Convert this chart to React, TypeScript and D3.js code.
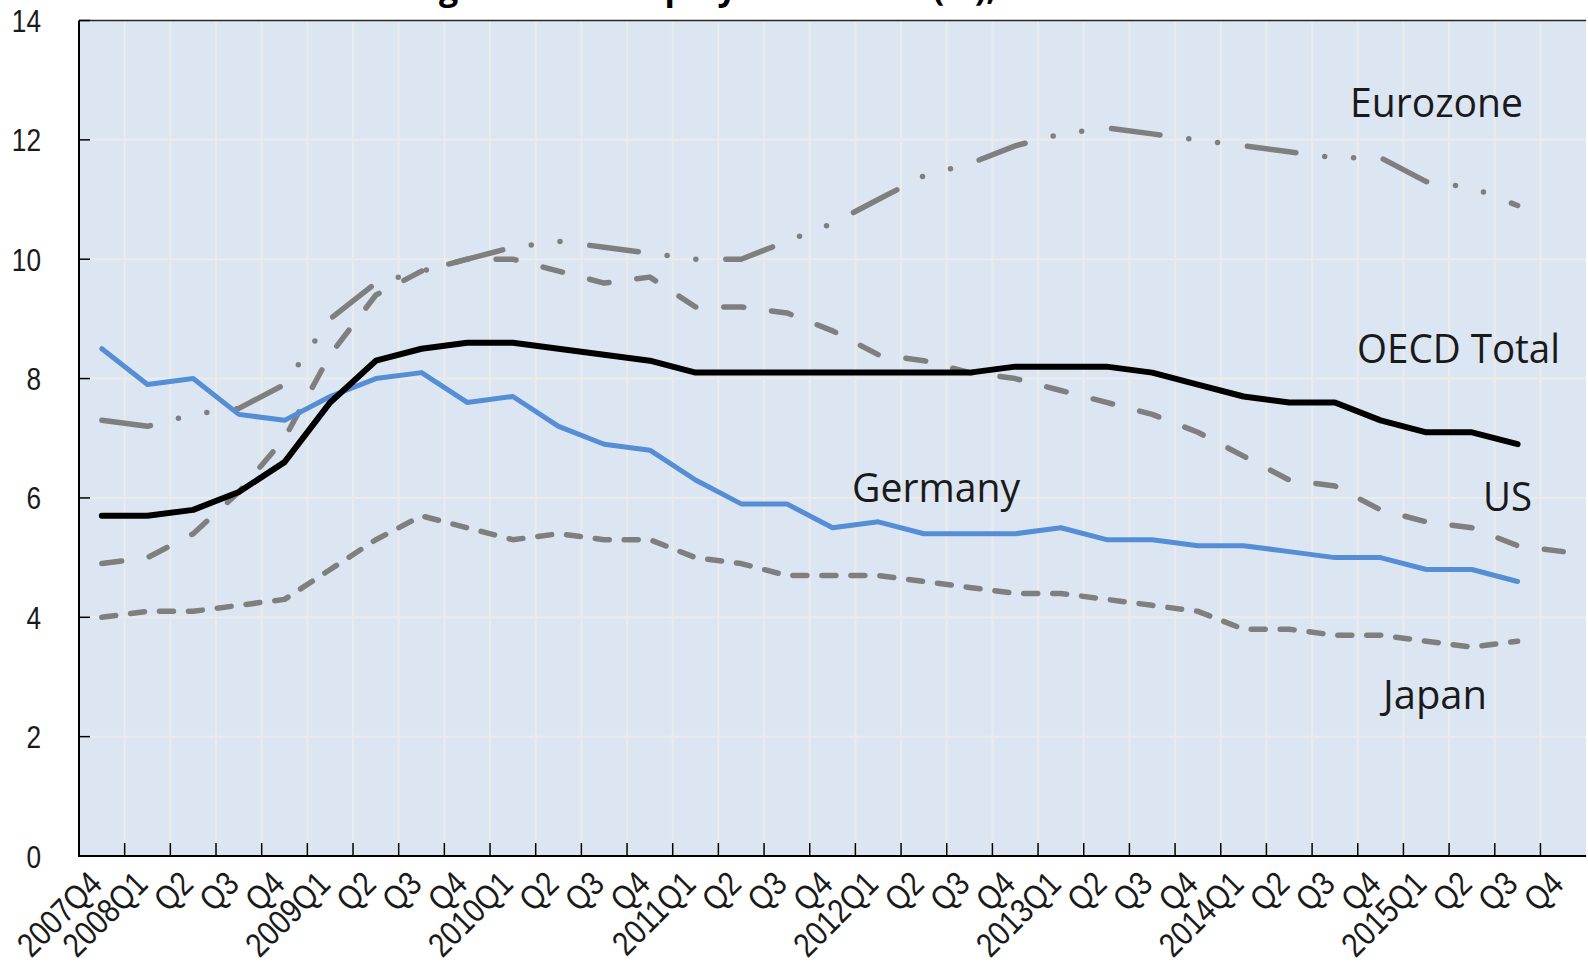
import React from "react";
import * as d3 from "d3";

const quarterLabels = [
  "2007Q4", "2008Q1", "Q2", "Q3", "Q4", "2009Q1", "Q2", "Q3", "Q4",
  "2010Q1", "Q2", "Q3", "Q4", "2011Q1", "Q2", "Q3", "Q4",
  "2012Q1", "Q2", "Q3", "Q4", "2013Q1", "Q2", "Q3", "Q4",
  "2014Q1", "Q2", "Q3", "Q4", "2015Q1", "Q2", "Q3", "Q4",
];

const oecdTotal = [5.7, 5.7, 5.8, 6.1, 6.6, 7.6, 8.3, 8.5, 8.6, 8.6, 8.5, 8.4, 8.3, 8.1, 8.1, 8.1, 8.1, 8.1, 8.1, 8.1, 8.2, 8.2, 8.2, 8.1, 7.9, 7.7, 7.6, 7.6, 7.3, 7.1, 7.1, 6.9];
const germany = [8.5, 7.9, 8.0, 7.4, 7.3, 7.7, 8.0, 8.1, 7.6, 7.7, 7.2, 6.9, 6.8, 6.3, 5.9, 5.9, 5.5, 5.6, 5.4, 5.4, 5.4, 5.5, 5.3, 5.3, 5.2, 5.2, 5.1, 5.0, 5.0, 4.8, 4.8, 4.6];
const japan = [4.0, 4.1, 4.1, 4.2, 4.3, 4.8, 5.3, 5.7, 5.5, 5.3, 5.4, 5.3, 5.3, 5.0, 4.9, 4.7, 4.7, 4.7, 4.6, 4.5, 4.4, 4.4, 4.3, 4.2, 4.1, 3.8, 3.8, 3.7, 3.7, 3.6, 3.5, 3.6];
const us = [4.9, 5.0, 5.4, 6.1, 7.0, 8.4, 9.4, 9.8, 10.0, 10.0, 9.8, 9.6, 9.7, 9.2, 9.2, 9.1, 8.8, 8.4, 8.3, 8.1, 8.0, 7.8, 7.6, 7.4, 7.1, 6.7, 6.3, 6.2, 5.8, 5.6, 5.5, 5.2, 5.1];
const eurozone = [7.3, 7.2, 7.4, 7.5, 7.9, 9.0, 9.6, 9.8, 10.0, 10.2, 10.3, 10.2, 10.1, 10.0, 10.0, 10.3, 10.6, 11.0, 11.4, 11.6, 11.9, 12.1, 12.2, 12.1, 12.0, 11.9, 11.8, 11.7, 11.7, 11.3, 11.2, 10.9];

const yTicks = [0, 2, 4, 6, 8, 10, 12, 14];

const W = 1588;
const H = 968;
const left = 79;
const bandW = 45.67;
const right = left + bandW * quarterLabels.length;
const top = 20.5;
const bottom = 856;

const seriesDefs = [
  { name: "Japan", values: japan, color: "#7f7f7f", width: 5.5, dash: "14 15" },
  { name: "US", values: us, color: "#7f7f7f", width: 5.5, dash: "20 28" },
  { name: "Eurozone", values: eurozone, color: "#7f7f7f", width: 5.5, dash: "49 29 0 29 0 30" },
  { name: "Germany", values: germany, color: "#558ed5", width: 5, dash: null },
  { name: "OECD Total", values: oecdTotal, color: "#000000", width: 6, dash: null },
];

const seriesLabels = [
  { text: "Eurozone", x: 1350, y: 117, len: 173 },
  { text: "OECD Total", x: 1357, y: 363, len: 203 },
  { text: "US", x: 1483, y: 511, len: 49 },
  { text: "Germany", x: 852, y: 502, len: 168 },
  { text: "Japan", x: 1383, y: 709, len: 104 },
];

export default function App() {
  const x = d3
    .scaleBand<number>()
    .domain(quarterLabels.map((_, i) => i))
    .range([left, right])
    .paddingInner(0)
    .paddingOuter(0);
  const y = d3.scaleLinear().domain([0, 14]).range([bottom, top]);
  const cx = (i: number) => (x(i) as number) + x.bandwidth() / 2;

  const line = d3
    .line<number>()
    .x((_, i) => cx(i))
    .y((d) => y(d));

  const narrow = "'Liberation Sans', Arial, sans-serif";

  return (
    <svg
      width={W}
      height={H}
      style={{ position: "absolute", left: 0, top: 0, background: "#ffffff" }}
    >
      <text
        x={410}
        y={0}
        fontFamily="'Open Sans', sans-serif"
        fontWeight={700}
        fontSize={34}
        fill="#000"
      >
        Figure 1. Unemployment rates (%), 2007-2015
      </text>
      <rect x={left} y={top} width={right - left} height={bottom - top} fill="#dce6f2" />
      {quarterLabels.map((_, i) =>
        i === 0 ? null : (
          <line
            key={"vg" + i}
            x1={x(i) as number}
            x2={x(i) as number}
            y1={top}
            y2={bottom}
            stroke="#ebebeb"
            strokeWidth={2}
          />
        )
      )}
      {yTicks
        .filter((t) => t !== 0 && t !== 14)
        .map((t) => (
          <line key={"hg" + t} x1={left} x2={right} y1={y(t)} y2={y(t)} stroke="#ebebeb" strokeWidth={2} />
        ))}
      {seriesDefs.map((s) => (
        <path
          key={s.name}
          d={line(s.values) || ""}
          fill="none"
          stroke={s.color}
          strokeWidth={s.width}
          strokeDasharray={s.dash || undefined}
          strokeLinecap="round"
          strokeLinejoin="round"
        />
      ))}
      <line x1={left} x2={right} y1={top} y2={top} stroke="#262626" strokeWidth={1.5} />
      <line x1={left} x2={left} y1={top} y2={bottom + 1} stroke="#000" strokeWidth={2} />
      <line x1={left} x2={right} y1={bottom} y2={bottom} stroke="#000" strokeWidth={2} />
      {yTicks.map((t) => (
        <g key={"yt" + t}>
          <line x1={left} x2={left + 11} y1={y(t)} y2={y(t)} stroke="#000" strokeWidth={1.5} />
          <text
            transform={`translate(41,${y(t)}) scale(0.82,1)`}
            dy="0.36em"
            textAnchor="end"
            fontFamily={narrow}
            fontSize={32}
            fill="#1a1a1a"
          >
            {t}
          </text>
        </g>
      ))}
      {quarterLabels.map((lab, i) => (
        <g key={"xt" + i}>
          {i > 0 && (
            <line
              x1={x(i) as number}
              x2={x(i) as number}
              y1={bottom}
              y2={bottom - 13}
              stroke="#000"
              strokeWidth={1.5}
            />
          )}
          <text
            transform={`translate(${cx(i) + 2},${886}) rotate(-45) scale(0.85,1)`}
            textAnchor="end"
            fontFamily={narrow}
            fontSize={34}
            fill="#1a1a1a"
          >
            {lab}
          </text>
        </g>
      ))}
      {seriesLabels.map((l) => (
        <text
          key={l.text}
          x={l.x}
          y={l.y}
          fontFamily="'Open Sans', sans-serif"
          fontSize={40}
          fill="#1a1a1a"
          textLength={l.len}
          lengthAdjust="spacingAndGlyphs"
        >
          {l.text}
        </text>
      ))}
    </svg>
  );
}
